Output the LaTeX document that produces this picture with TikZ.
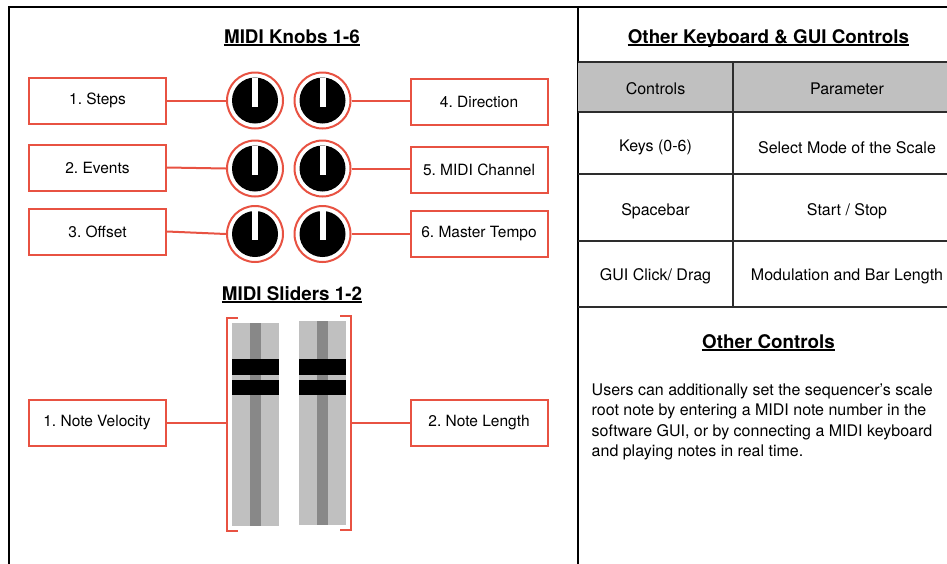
\documentclass[tikz,border=0pt]{standalone}
\usepackage{fontspec}
\setmainfont{TeX Gyre Heros}
\frenchspacing
\definecolor{accent}{RGB}{232,82,66}
\definecolor{panelgray}{RGB}{192,192,192}
\definecolor{trackdark}{RGB}{136,136,136}
\definecolor{rulegray}{RGB}{45,45,45}

\tikzset{
  lbl/.style={draw=accent, line width=2pt, fill=white, minimum width=137pt,
    minimum height=46pt, inner sep=0pt, font=\fontsize{15.5}{18}\selectfont},
  heading/.style={font=\fontsize{18.8}{22}\selectfont\bfseries, inner sep=0pt, anchor=base},
  cell/.style={font=\fontsize{16}{19}\selectfont, inner sep=0pt},
  wire/.style={draw=accent, line width=2pt},
  knobring/.style={circle, draw=accent, line width=2pt, fill=white, minimum size=56pt, inner sep=0pt},
  frameline/.style={line width=1.5pt, black},
  tableline/.style={line width=2pt, rulegray},
  ulineheading/.style={line width=1.3pt},
}

\begin{document}
\begin{tikzpicture}[x=1pt, y=-1pt]
\useasboundingbox (0,0) rectangle (947,563);
\clip (0,0) rectangle (947,563);

% ---------- outer frame and panel divider ----------
\draw[frameline] (9,580) -- (9,7) -- (970,7);
\draw[frameline] (578,7) -- (578,580);

% ---------- MIDI knobs ----------
\node[heading] (tknobs) at (292,43) {MIDI Knobs 1-6};
\draw[ulineheading] ([yshift=-2pt]tknobs.base west) -- ([yshift=-2pt]tknobs.base east);

\node[lbl] (b1) at (97.5,100.5) {1. Steps};
\node[lbl] (b2) at (97.5,167.5) {2. Events};
\node[lbl] (b3) at (97.5,231.5) {3. Offset};
\node[lbl] (b4) at (479,102) {4. Direction};
\node[lbl] (b5) at (479,169.5) {5. MIDI Channel};
\node[lbl] (b6) at (479,233.5) {6. Master Tempo};

\node[knobring] (k1) at (255,100.5) {};
\node[knobring] (k2) at (255,168.5) {};
\node[knobring] (k3) at (255,234) {};
\node[knobring] (k4) at (322.5,100.5) {};
\node[knobring] (k5) at (322.5,168.5) {};
\node[knobring] (k6) at (322.5,234) {};

\foreach \k in {k1,k2,k3,k4,k5,k6}{
  \fill[black] (\k.center) circle[radius=23];
  \fill[white] ([xshift=-3pt,yshift=23pt]\k.center) rectangle ([xshift=3pt,yshift=-6pt]\k.center);
}

\draw[wire] (b1.east) -- (k1.west);
\draw[wire] (b2.east) -- (k2.west);
\draw[wire] (b3.east) -- (k3.west);
\draw[wire] (k4.east) -- (k4.east -| b4.west);
\draw[wire] (k5.east) -- (k5.east -| b5.west);
\draw[wire] (k6.east) -- (k6.east -| b6.west);

% ---------- MIDI sliders ----------
\node[heading] (tsliders) at (292,300) {MIDI Sliders 1-2};
\draw[ulineheading] ([yshift=-2pt]tsliders.base west) -- ([yshift=-2pt]tsliders.base east);

% slider 1
\fill[panelgray] (232,323) rectangle (279,526);
\fill[trackdark] (250,323) rectangle (261,526);
\fill[black] (232,359) rectangle (279,375);
\fill[black] (232,380) rectangle (279,395);
% slider 2
\fill[panelgray] (299,321) rectangle (346,525);
\fill[trackdark] (317,321) rectangle (328,525);
\fill[black] (299,359) rectangle (346,375);
\fill[black] (299,380) rectangle (346,395);

% brackets round the sliders
\draw[wire] (237.5,317.5) -- (226.5,317.5) -- (226.5,531) -- (237.5,531);
\draw[wire] (340,316) -- (350.5,316) -- (350.5,530) -- (340,530);
\coordinate (brl) at (226.5,423);
\coordinate (brr) at (350.5,423);

\node[lbl] (s1) at (97,423) {1. Note Velocity};
\node[lbl] (s2) at (479,423) {2. Note Length};
\draw[wire] (s1.east) -- (brl);
\draw[wire] (brr) -- (s2.west);

% ---------- keyboard & GUI controls table ----------
\node[heading] (tkeys) at (768.5,43) {Other Keyboard \& GUI Controls};
\draw[ulineheading] ([yshift=-2pt]tkeys.base west) -- ([yshift=-2pt]tkeys.base east);

\fill[panelgray] (578,62) rectangle (970,112);
\foreach \yy in {62,112,174,241,307}{
  \draw[tableline] (578,\yy) -- (970,\yy);
}
\draw[tableline] (733,62) -- (733,307);

\node[cell] (h1) at (655.5,88.5) {Controls};
\node[cell] (h2) at (847,88.5) {Parameter};
\node[cell] (c1) at (655.5,147) {Keys (0-6)};
\node[cell] (p1) at (847,148) {Select Mode of the Scale};
\node[cell] (c2) at (655.5,211.5) {Spacebar};
\node[cell] (p2) at (847,211.5) {Start / Stop};
\node[cell] (c3) at (655.5,276) {GUI Click/ Drag};
\node[cell] (p3) at (847,276) {Modulation and Bar Length};

% ---------- other controls ----------
\node[heading] (tother) at (768.5,348) {Other Controls};
\draw[ulineheading] ([yshift=-2pt]tother.base west) -- ([yshift=-2pt]tother.base east);

\node[anchor=north west, align=left, inner sep=0pt, font=\fontsize{16}{20.5}\selectfont] (para) at (591.5,383.5)
  {Users can additionally set the sequencer’s scale\\
   root note by entering a MIDI note number in the\\
   software GUI, or by connecting a MIDI keyboard\\
   and playing notes in real time.};
\end{tikzpicture}
\end{document}
